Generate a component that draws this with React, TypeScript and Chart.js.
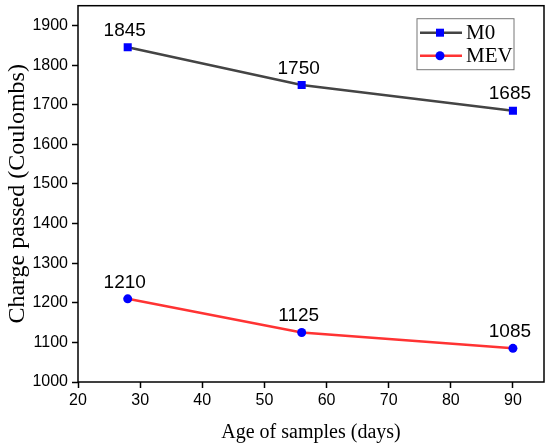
import { useRef, useEffect } from "react"
import { Chart, registerables } from "chart.js"

Chart.register(...registerables)

const ages = [28, 56, 90]
const m0Values = [1845, 1750, 1685]
const mevValues = [1210, 1125, 1085]
const xTicks = [20, 30, 40, 50, 60, 70, 80, 90]
const yTicks = [1000, 1100, 1200, 1300, 1400, 1500, 1600, 1700, 1800, 1900]

const SANS = "'Liberation Sans', Arial, sans-serif"
const SERIF = "'Liberation Serif', 'Times New Roman', serif"

const framePlugin = {
  id: "frame",
  afterDatasetsDraw(chart: any) {
    const { ctx, chartArea } = chart
    ctx.save()
    ctx.strokeStyle = "#000"
    ctx.lineWidth = 1.5
    ctx.strokeRect(chartArea.left, chartArea.top, chartArea.right - chartArea.left, chartArea.bottom - chartArea.top)
    ctx.restore()
  },
}

const valueLabels = {
  id: "valueLabels",
  afterDatasetsDraw(chart: any) {
    const { ctx } = chart
    ctx.save()
    ctx.font = `19px ${SANS}`
    ctx.fillStyle = "#000"
    ctx.textAlign = "center"
    ctx.textBaseline = "bottom"
    chart.data.datasets.forEach((ds: any, i: number) => {
      const meta = chart.getDatasetMeta(i)
      meta.data.forEach((pt: any, j: number) => {
        ctx.fillText(String(ds.data[j].y), pt.x - 3, pt.y - 7)
      })
    })
    ctx.restore()
  },
}

const lineLegend = {
  id: "lineLegend",
  afterDraw(chart: any) {
    const { ctx, chartArea } = chart
    const w = 97
    const h = 51
    const x0 = chartArea.right - 127
    const y0 = chartArea.top + 13
    ctx.save()
    ctx.fillStyle = "#fff"
    ctx.fillRect(x0, y0, w, h)
    ctx.strokeStyle = "#777"
    ctx.lineWidth = 1
    ctx.strokeRect(x0, y0, w, h)
    ctx.font = `21px ${SERIF}`
    ctx.textBaseline = "middle"
    chart.data.datasets.forEach((ds: any, i: number) => {
      const cy = y0 + 14 + i * 23
      ctx.strokeStyle = ds.borderColor
      ctx.lineWidth = 2.5
      ctx.beginPath()
      ctx.moveTo(x0 + 3, cy)
      ctx.lineTo(x0 + 45, cy)
      ctx.stroke()
      ctx.fillStyle = ds.pointBackgroundColor
      if (ds.pointStyle === "rect") {
        ctx.fillRect(x0 + 19, cy - 4, 8, 8)
      } else {
        ctx.beginPath()
        ctx.arc(x0 + 23, cy, 4.5, 0, Math.PI * 2)
        ctx.fill()
      }
      ctx.fillStyle = "#000"
      ctx.fillText(ds.label, x0 + 49, cy + 1)
    })
    ctx.restore()
  },
}

export default function App() {
  const canvasRef = useRef<HTMLCanvasElement>(null)
  const chartRef = useRef<Chart | null>(null)

  useEffect(() => {
    document.body.style.margin = "0"
    if (!canvasRef.current) return
    if (chartRef.current) chartRef.current.destroy()

    chartRef.current = new Chart(canvasRef.current, {
      type: "line",
      data: {
        datasets: [
          {
            label: "M0",
            data: ages.map((a, i) => ({ x: a, y: m0Values[i] })),
            borderColor: "#444444",
            borderWidth: 2.5,
            pointStyle: "rect",
            pointRadius: 5.7,
            pointBackgroundColor: "#0000ff",
            pointBorderColor: "#0000ff",
            pointBorderWidth: 0,
          },
          {
            label: "MEV",
            data: ages.map((a, i) => ({ x: a, y: mevValues[i] })),
            borderColor: "#ff3333",
            borderWidth: 2.5,
            pointStyle: "circle",
            pointRadius: 4.5,
            pointBackgroundColor: "#0000ff",
            pointBorderColor: "#0000ff",
            pointBorderWidth: 0,
          },
        ],
      },
      options: {
        animation: false,
        responsive: false,
        layout: { padding: { top: 5, right: 6, left: 0, bottom: 0 } },
        plugins: {
          legend: { display: false },
          tooltip: { enabled: false },
        },
        scales: {
          x: {
            type: "linear",
            min: 20,
            max: 95,
            afterBuildTicks: (s: any) => {
              s.ticks = xTicks.map((v) => ({ value: v }))
            },
            afterFit: (s: any) => {
              s.height = 63
              s.paddingLeft = 0
              s.paddingRight = 0
            },
            grid: { drawOnChartArea: false, drawTicks: true, tickLength: 6, tickColor: "#000", tickWidth: 1.5 },
            border: { display: false },
            ticks: { color: "#000", font: { family: SANS, size: 16 }, padding: 3, maxRotation: 0, callback: (v: any) => String(v) },
            title: {
              display: true,
              text: "Age of samples (days)",
              color: "#000",
              font: { family: SERIF, size: 20 },
              padding: { top: 4, bottom: 0 },
            },
          },
          y: {
            type: "linear",
            min: 1000,
            max: 1950,
            afterBuildTicks: (s: any) => {
              s.ticks = yTicks.map((v) => ({ value: v }))
            },
            afterFit: (s: any) => {
              s.width = 78
              s.paddingTop = 0
              s.paddingBottom = 0
            },
            grid: { drawOnChartArea: false, drawTicks: true, tickLength: 6, tickColor: "#000", tickWidth: 1.5 },
            border: { display: false },
            ticks: { color: "#000", font: { family: SANS, size: 16 }, padding: 4, callback: (v: any) => String(v) },
            title: {
              display: true,
              text: "Charge passed (Coulombs)",
              color: "#000",
              font: { family: SERIF, size: 24 },
              padding: { top: 3, bottom: 2 },
            },
          },
        },
      },
      plugins: [framePlugin, valueLabels, lineLegend],
    })

    return () => {
      if (chartRef.current) chartRef.current.destroy()
      chartRef.current = null
    }
  }, [])

  return (
    <div style={{ width: 550, height: 445, background: "#fff" }}>
      <canvas ref={canvasRef} width={550} height={445} style={{ width: 550, height: 445 }} />
    </div>
  )
}
